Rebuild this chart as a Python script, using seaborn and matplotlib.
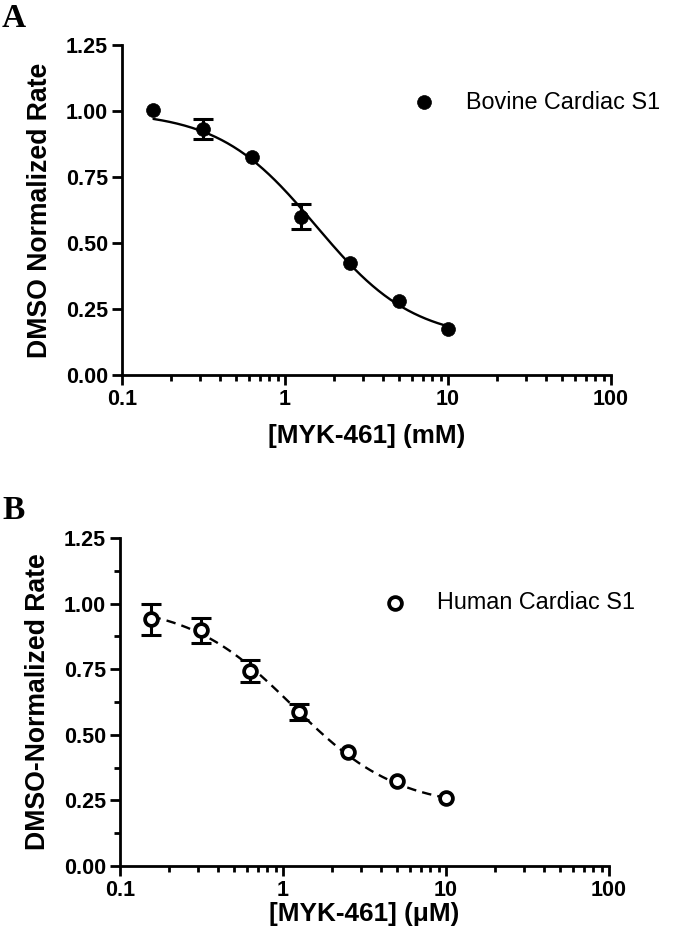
import numpy as np
import pandas as pd
import matplotlib
matplotlib.use("Agg")
import matplotlib.pyplot as plt
from matplotlib.ticker import LogLocator, FixedLocator, NullFormatter, FuncFormatter
import seaborn as sns

# ---------------- data ----------------
conc = [0.156, 0.3125, 0.625, 1.25, 2.5, 5.0, 10.0]

bovine_rate = [1.005, 0.931, 0.827, 0.600, 0.423, 0.279, 0.173]
bovine_err = [0.0, 0.037, 0.0, 0.048, 0.0, 0.0, 0.0]
# fitted 4-parameter logistic (top, bottom, IC50, hill)
bovine_fit = [1.0, 0.13, 1.55, 1.45]

human_rate = [0.940, 0.899, 0.744, 0.586, 0.433, 0.324, 0.258]
human_err = [0.060, 0.048, 0.041, 0.030, 0.0, 0.0, 0.0]
human_fit = [1.0, 0.22, 1.15, 1.35]

y_ticks = [0.0, 0.25, 0.50, 0.75, 1.00, 1.25]
x_ticks = [0.1, 1, 10, 100]

labels_A = dict(series="Bovine Cardiac S1", x="[MYK-461] (mM)", y="DMSO Normalized Rate", panel="A")
labels_B = dict(series="Human Cardiac S1", x="[MYK-461] (\u03bcM)", y="DMSO-Normalized Rate", panel="B")

# ---------------- style ----------------
sns.set_style("ticks")
plt.rcParams["font.family"] = ["Liberation Sans", "DejaVu Sans"]
plt.rcParams["axes.linewidth"] = 2.0
for k in ["text.color", "axes.labelcolor", "xtick.color", "ytick.color", "axes.edgecolor"]:
    plt.rcParams[k] = "black"

fig = plt.figure(figsize=(6.8, 9.46), dpi=100)
axA = fig.add_axes([122 / 680, 1 - 375 / 946, 489 / 680, 330 / 946])
axB = fig.add_axes([120 / 680, 1 - 866 / 946, 489 / 680, 328 / 946])


def fit_curve(p, xs):
    top, bottom, ic50, h = p
    return bottom + (top - bottom) / (1 + (xs / ic50) ** h)


def draw(ax, rate, err, fit, labels, filled, dashed, y_minor, xlabelpad, leg_anchor):
    df = pd.DataFrame({"conc": conc, "rate": rate, "err": err})
    xs = np.logspace(np.log10(conc[0]), np.log10(conc[-1]), 200)
    cdf = pd.DataFrame({"x": xs, "y": fit_curve(fit, xs)})
    sns.lineplot(data=cdf, x="x", y="y", ax=ax, color="black", lw=1.7,
                 linestyle=(0, (4, 2.6)) if dashed else "-", legend=False, zorder=2)
    has = df[df["err"] > 0]
    ax.errorbar(has["conc"], has["rate"], yerr=has["err"], fmt="none",
                ecolor="black", elinewidth=2.2, capsize=7, capthick=2.2, zorder=3)
    if filled:
        sns.scatterplot(data=df, x="conc", y="rate", ax=ax, color="black", s=100,
                        edgecolor="black", linewidth=0.5, zorder=4, label=labels["series"])
    else:
        sns.scatterplot(data=df, x="conc", y="rate", ax=ax, facecolor="white", s=85,
                        edgecolor="black", linewidth=2.7, zorder=4, label=labels["series"])
    ax.set_xscale("log")
    ax.set_xlim(0.1, 100)
    ax.set_ylim(0, 1.25)
    ax.set_yticks(y_ticks)
    ax.yaxis.set_major_formatter(FuncFormatter(lambda v, p: f"{v:.2f}"))
    ax.xaxis.set_major_locator(FixedLocator(x_ticks))
    ax.xaxis.set_major_formatter(FuncFormatter(lambda v, p: f"{v:g}"))
    ax.xaxis.set_minor_locator(LogLocator(base=10, subs=np.arange(2, 10)))
    ax.xaxis.set_minor_formatter(NullFormatter())
    if y_minor:
        ax.yaxis.set_minor_locator(FixedLocator([0.125, 0.375, 0.625, 0.875, 1.125]))
    sns.despine(ax=ax)
    ax.tick_params(axis="both", which="major", length=7, width=2.0, labelsize=15.5, pad=3)
    ax.tick_params(axis="both", which="minor", length=4, width=2.0)
    for t in ax.get_xticklabels() + ax.get_yticklabels():
        t.set_fontweight("bold")
    ax.set_xlabel(labels["x"], fontsize=18.8, fontweight="bold", labelpad=xlabelpad)
    ax.set_ylabel(labels["y"], fontsize=19.2, fontweight="bold", labelpad=9)
    ax.legend(loc="upper left", bbox_to_anchor=leg_anchor, frameon=False,
              fontsize=16.8, handletextpad=0.8, markerscale=1.0,
              borderaxespad=0, borderpad=0)
    return ax


draw(axA, bovine_rate, bovine_err, bovine_fit, labels_A, filled=True, dashed=False,
     y_minor=False, xlabelpad=10, leg_anchor=(0.57, 0.862))
draw(axB, human_rate, human_err, human_fit, labels_B, filled=False, dashed=True,
     y_minor=True, xlabelpad=1, leg_anchor=(0.515, 0.838))

fig.text(2 / 680, 1 - 27 / 946, labels_A["panel"], family=["Liberation Serif"], fontweight="bold", fontsize=24)
fig.text(2 / 680, 1 - 519 / 946, labels_B["panel"], family=["Liberation Serif"], fontweight="bold", fontsize=24)

fig.savefig("out.png", dpi=100)
